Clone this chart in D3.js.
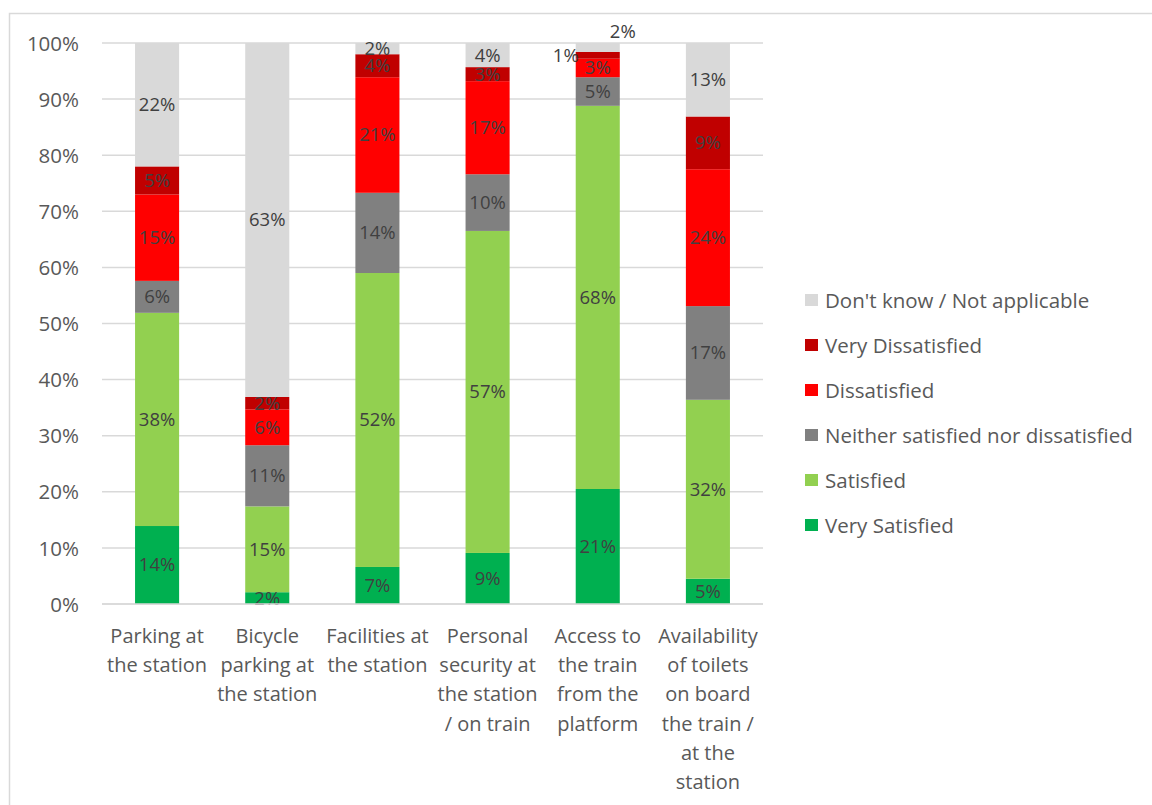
<!DOCTYPE html>
<html>
<head>
<meta charset="utf-8">
<script src="https://cdn.jsdelivr.net/npm/d3@7/dist/d3.min.js"></script>
<style>
  html, body { margin: 0; padding: 0; background: #fff; }
  svg { display: block; }
  text { font-family: "Open Sans", "Noto Sans", sans-serif; }
</style>
</head>
<body>
<svg id="chart" width="1152" height="805"></svg>
<script>
// ---- Data ----
const categories = [
  "Parking at the station",
  "Bicycle parking at the station",
  "Facilities at the station",
  "Personal security at the station / on train",
  "Access to the train from the platform",
  "Availability of toilets on board the train / at the station"
];
const categoryLines = [
  ["Parking at", "the station"],
  ["Bicycle", "parking at", "the station"],
  ["Facilities at", "the station"],
  ["Personal", "security at", "the station", "/ on train"],
  ["Access to", "the train", "from the", "platform"],
  ["Availability", "of toilets", "on board", "the train /", "at the", "station"]
];
const seriesNames = [
  "Very Satisfied",
  "Satisfied",
  "Neither satisfied nor dissatisfied",
  "Dissatisfied",
  "Very Dissatisfied",
  "Don't know / Not applicable"
];
const seriesColors = ["#00b050", "#92d050", "#808080", "#ff0000", "#c00000", "#d9d9d9"];

const verySatisfied      = [13.9, 2.1, 6.6, 9.1, 20.5, 4.5];
const satisfied          = [38.0, 15.3, 52.4, 57.4, 68.3, 31.9];
const neither            = [5.7, 10.9, 14.3, 10.1, 5.1, 16.7];
const dissatisfied       = [15.4, 6.4, 20.6, 16.6, 3.3, 24.4];
const veryDissatisfied   = [5.0, 2.2, 4.1, 2.5, 1.2, 9.4];
const dontKnow           = [22.0, 63.1, 2.0, 4.3, 1.6, 13.1];

const yTicks = [0, 10, 20, 30, 40, 50, 60, 70, 80, 90, 100];

const seriesValues = [verySatisfied, satisfied, neither, dissatisfied, veryDissatisfied, dontKnow];

// ---- Layout ----
const svg = d3.select("#chart");
const plot = { left: 102, right: 763, top: 43, bottom: 604 };
const textColor = "#595959";
const labelColor = "#404040";
const gridColor = "#d9d9d9";

// frame
svg.append("rect")
  .attr("x", 9.5).attr("y", 13.5)
  .attr("width", 1160).attr("height", 820)
  .attr("fill", "none").attr("stroke", gridColor).attr("stroke-width", 1.5);

const x = d3.scaleBand().domain(categories).range([plot.left, plot.right]).paddingInner(0.6).paddingOuter(0.3);
const y = d3.scaleLinear().domain([0, 100]).range([plot.bottom, plot.top]);

// gridlines
svg.append("g").selectAll("line").data(yTicks).join("line")
  .attr("x1", plot.left).attr("x2", plot.right)
  .attr("y1", d => y(d)).attr("y2", d => y(d))
  .attr("stroke", gridColor).attr("stroke-width", 1.5);

// y axis labels
const yAxis = d3.axisLeft(y).tickValues(yTicks).tickFormat(d => d + "%").tickSize(0).tickPadding(0);
const yg = svg.append("g").attr("transform", `translate(79,0)`).call(yAxis);
yg.select(".domain").remove();
yg.selectAll("text").attr("fill", textColor).style("font-size", "20.5px")
  .style("font-family", '"Open Sans", sans-serif').attr("dy", "0.35em");

// stack
const rows = categories.map((c, i) => {
  const r = { cat: c };
  seriesNames.forEach((s, j) => r[s] = seriesValues[j][i]);
  return r;
});
const stacked = d3.stack().keys(seriesNames)(rows);

const layers = svg.append("g").selectAll("g").data(stacked).join("g")
  .attr("fill", (d, i) => seriesColors[i]);
layers.selectAll("rect").data(d => d.map(p => ({ p, key: d.key }))).join("rect")
  .attr("x", d => x(d.p.data.cat))
  .attr("width", x.bandwidth())
  .attr("y", d => y(d.p[1]))
  .attr("height", d => y(d.p[0]) - y(d.p[1]));

// data labels
const labelG = svg.append("g");
stacked.forEach((layer, si) => {
  layer.forEach(p => {
    const v = p[1] - p[0];
    let cx = x(p.data.cat) + x.bandwidth() / 2;
    let cy = (y(p[0]) + y(p[1])) / 2;
    let anchor = "middle";
    // special placements for tiny segments of "Access to the train"
    if (p.data.cat === categories[4] && layer.key === "Very Dissatisfied") {
      cx = x(p.data.cat) + 3; anchor = "end";
    }
    if (p.data.cat === categories[4] && layer.key === "Don't know / Not applicable") {
      cx = x(p.data.cat) + x.bandwidth() + 3; cy = y(p[1]) - 11;
    }
    labelG.append("text")
      .attr("x", cx).attr("y", cy).attr("dy", "0.35em")
      .attr("text-anchor", anchor)
      .attr("fill", labelColor)
      .style("font-size", "18.5px")
      .text(Math.round(v) + "%");
  });
});

// baseline
svg.append("line").attr("x1", plot.left).attr("x2", plot.right)
  .attr("y1", y(0)).attr("y2", y(0)).attr("stroke", gridColor).attr("stroke-width", 1.5);

// category labels
const catG = svg.append("g");
categories.forEach((c, i) => {
  const t = catG.append("text")
    .attr("x", x(c) + x.bandwidth() / 2)
    .attr("y", 643)
    .attr("text-anchor", "middle")
    .attr("fill", textColor)
    .style("font-size", "20px");
  categoryLines[i].forEach((ln, k) => {
    t.append("tspan").attr("x", x(c) + x.bandwidth() / 2).attr("y", 643 + k * 29.2).text(ln);
  });
});

// legend
const legendOrder = seriesNames.map((s, i) => i).reverse();
const lg = svg.append("g");
legendOrder.forEach((si, k) => {
  const cy = 300 + k * 45;
  lg.append("rect").attr("x", 805).attr("y", cy - 6).attr("width", 13).attr("height", 12)
    .attr("fill", seriesColors[si]);
  lg.append("text").attr("x", 825).attr("y", cy + 1).attr("dy", "0.35em")
    .attr("fill", textColor).style("font-size", "20.5px").text(seriesNames[si]);
});
</script>
</body>
</html>
